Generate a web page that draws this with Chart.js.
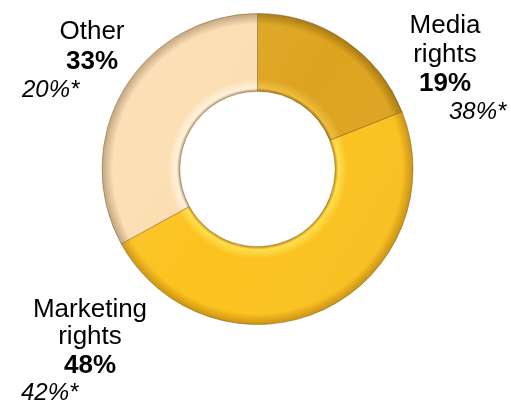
<!DOCTYPE html>
<html>
<head>
<meta charset="utf-8">
<title>Rights revenue split</title>
<script src="https://cdn.jsdelivr.net/npm/chart.js@4/dist/chart.umd.min.js"></script>
<style>
  html, body { margin: 0; padding: 0; background: #fff; }
  canvas { display: block; }
</style>
</head>
<body>
<canvas id="rightsChart" width="511" height="403"></canvas>
<script>
const categories = ['Media rights', 'Marketing rights', 'Other'];
const shares = [19, 48, 33];
const priorShares = [38, 42, 20];
const nameLines = [['Media', 'rights'], ['Marketing', 'rights'], ['Other']];

// base / highlight / shadow per slice, for the bevelled ring look
const shades = [
    { base: '#DDA41F', light: '#EDBD3C', dark: '#A67810' },
    { base: '#FCC21F', light: '#FFE04C', dark: '#CC920E' },
    { base: '#FCDDB0', light: '#FFF1DC', dark: '#BE9F78' },
];

const FONT = "'Liberation Sans', Arial, sans-serif";

function ringFill(ctx) {
    const s = shades[ctx.dataIndex];
    const chart = ctx.chart;
    const area = chart.chartArea;
    const ctrl = chart.getDatasetMeta(ctx.datasetIndex).controller;
    if (!area || !ctrl.outerRadius) return s.base;
    const cx = (area.left + area.right) / 2;
    const cy = (area.top + area.bottom) / 2;
    const g = chart.ctx.createRadialGradient(cx, cy, ctrl.innerRadius, cx, cy, ctrl.outerRadius);
    g.addColorStop(0, s.dark);
    g.addColorStop(0.04, s.light);
    g.addColorStop(0.16, s.base);
    g.addColorStop(0.86, s.base);
    g.addColorStop(1, s.dark);
    return g;
}

// soft top-left light over the ring only
const ringLight = {
    id: 'ringLight',
    afterDatasetsDraw(chart) {
        const { ctx, chartArea: a } = chart;
        const g = ctx.createLinearGradient(a.left, a.top, a.right, a.bottom);
        g.addColorStop(0, 'rgba(255, 255, 255, 0.18)');
        g.addColorStop(0.5, 'rgba(255, 255, 255, 0)');
        g.addColorStop(1, 'rgba(90, 50, 0, 0.10)');
        ctx.save();
        ctx.globalCompositeOperation = 'source-atop';
        ctx.fillStyle = g;
        ctx.fillRect(a.left, a.top, a.right - a.left, a.bottom - a.top);
        ctx.restore();
    }
};

// text blocks next to the ring: name lines, bold share, italic prior share
const labelBlocks = {
    id: 'labelBlocks',
    afterDraw(chart, args, opts) {
        const c = chart.ctx;
        c.save();
        c.fillStyle = '#000';
        c.textBaseline = 'alphabetic';
        opts.spots.forEach((spot, i) => {
            c.textAlign = 'center';
            c.font = '26px ' + FONT;
            nameLines[i].forEach((line, j) => c.fillText(line, spot.x, spot.lines[j]));
            c.font = 'bold 26px ' + FONT;
            c.fillText(shares[i] + '%', spot.x, spot.share);
            c.textAlign = 'left';
            c.font = 'italic 24px ' + FONT;
            c.fillText(priorShares[i] + '%*', spot.noteX, spot.note);
        });
        c.restore();
    }
};

new Chart(document.querySelector('#rightsChart'), {
    type: 'doughnut',
    data: {
        labels: categories,
        datasets: [
            {
                data: shares,
                backgroundColor: ringFill,
                borderColor: 'rgba(110, 75, 20, 0.45)',
                borderWidth: 1,
            },
        ],
    },
    options: {
        responsive: false,
        animation: false,
        events: [],
        cutout: '50%',
        layout: {
            padding: { top: 13, bottom: 78, left: 4, right: 0 },
        },
        plugins: {
            legend: { display: false },
            tooltip: { enabled: false },
            labelBlocks: {
                spots: [
                    { x: 445, lines: [33, 62], share: 91, noteX: 449, note: 119 },
                    { x: 90, lines: [317, 344], share: 373, noteX: 21, note: 400 },
                    { x: 92, lines: [39], share: 69, noteX: 22, note: 97 },
                ],
            },
        },
    },
    plugins: [ringLight, labelBlocks],
});
</script>
</body>
</html>
